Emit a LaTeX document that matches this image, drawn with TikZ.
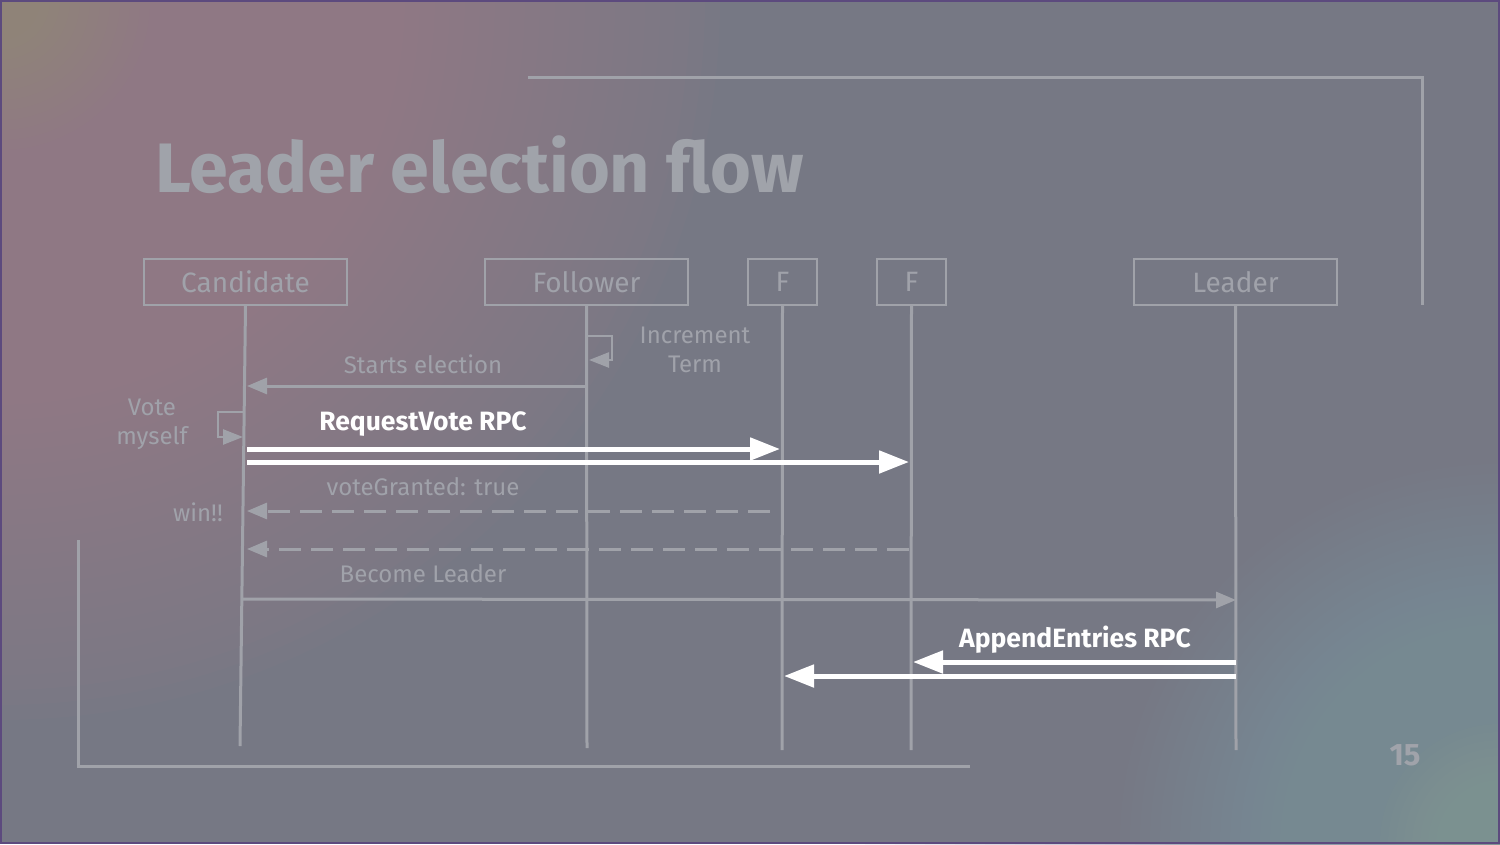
\documentclass[tikz,border=0pt]{standalone}
\usepackage{fontspec}
\setmainfont{Fira Sans}
\usetikzlibrary{arrows.meta}
\definecolor{bgc}{HTML}{767884}
\definecolor{tlA}{HTML}{A09A78}
\definecolor{tlB}{HTML}{A27A8C}
\definecolor{brA}{HTML}{8EA490}
\definecolor{brB}{HTML}{7EA0A8}
\definecolor{brC}{HTML}{84809A}
\definecolor{bord}{HTML}{5C4A7E}
\definecolor{linec}{HTML}{A0A2A9}
\definecolor{textc}{HTML}{A0A2AA}
\definecolor{titlec}{HTML}{A0A3AA}
\tikzset{
  actor/.style={draw=linec, line width=2pt, minimum height=46pt, text=textc, font=\fontsize{28}{30}\selectfont, inner sep=0pt},
  life/.style={draw=linec, line width=3pt},
  frame/.style={draw=linec, line width=3pt},
  msg/.style={draw=linec, line width=3pt, -{Triangle[length=20pt,width=16pt]}},
  dmsg/.style={msg, dash pattern=on 22pt off 10pt},
  loopmsg/.style={draw=linec, line width=2.5pt, -{Triangle[length=20pt,width=15pt]}},
  rpc/.style={draw=white, line width=5pt, -{Triangle[length=30pt,width=22pt]}},
  lbl/.style={text=textc, font=\fontsize{24}{29}\selectfont, align=center, inner sep=0pt},
  rpclbl/.style={text=white, font=\bfseries\fontsize{26.5}{30}\selectfont, inner sep=0pt}
}
\begin{document}
\begin{tikzpicture}[x=1pt,y=-1pt]
\useasboundingbox (0,0) rectangle (1500,844);
\begin{scope}
  \clip (0,0) rectangle (1500,844);
  \fill[bgc] (0,0) rectangle (1500,844);
  % top-left pink glow
  \foreach \r in {720,705,...,30} {
    \fill[tlB, opacity=0.05] (0,0) circle[radius=\r pt];
  }
  \foreach \r in {150,140,...,10} {
    \fill[tlA, opacity=0.045] (0,0) circle[radius=\r pt];
  }
  % bottom-right teal glow
  \foreach \r in {650,635,...,200} {
    \fill[brC, opacity=0.035] (1500,844) circle[radius=\r pt];
  }
  \foreach \r in {380,370,...,20} {
    \fill[brB, opacity=0.045] (1500,844) circle[radius=\r pt];
  }
  \foreach \r in {120,112,...,8} {
    \fill[brA, opacity=0.05] (1500,844) circle[radius=\r pt];
  }
\end{scope}
\draw[bord, line width=2pt] (1,1) rectangle (1499,843);

% frame brackets
\draw[frame] (528,77) -- (1422,77) -- (1422,305);
\draw[frame] (78,540) -- (78,766) -- (970,766);

% title
\node[anchor=base west, text=titlec, font=\bfseries\fontsize{70}{78}\selectfont, inner sep=0pt] (title) at (155,192) {Leader election flow};
\node[anchor=base, text=titlec, font=\bfseries\fontsize{31}{34}\selectfont, inner sep=0pt] (pg) at (1405,765) {15};

% actors
\node[actor, minimum width=203pt] (cand) at (245.5,282) {Candidate};
\node[actor, minimum width=203pt] (foll) at (586.5,282) {Follower};
\node[actor, minimum width=69pt] (fa) at (782.5,282) {F};
\node[actor, minimum width=69pt] (fb) at (911.5,282) {F};
\node[actor, minimum width=203pt] (lead) at (1235.5,282) {Leader};

% lifeline ends
\coordinate (candE) at (240,746);
\coordinate (follE) at (587,748);
\coordinate (faE) at (782,750);
\coordinate (fbE) at (911,750);
\coordinate (leadE) at (1236,750);
\draw[life] (cand.south) -- (candE);
\draw[life] (foll.south) -- (follE);
\draw[life] (fa.south) -- (faE);
\draw[life] (fb.south) -- (fbE);
\draw[life] (lead.south) -- (leadE);

% increment term loop
\coordinate (iA) at (587,336);
\coordinate (iB) at (589,360);
\draw[loopmsg] (iA) -- (612,336) -- (612,360) -- (iB);
\node[lbl] (tInc) at (695,350) {Increment\\Term};

% starts election
\coordinate (sA) at (587,386);
\coordinate (sB) at (247,386);
\draw[msg] (sA) -- (sB);
\node[lbl] (tStart) at (423,364) {Starts election};

% vote myself loop
\coordinate (vA) at (245,412);
\coordinate (vB) at (243,437);
\draw[loopmsg] (vA) -- (218,412) -- (218,437) -- (vB);
\node[lbl] (tVote) at (152,424) {Vote\\myself};

% RequestVote RPC
\node[rpclbl] (tReq) at (423,424) {RequestVote RPC};
\coordinate (r1A) at (247,449);
\coordinate (r1B) at (780,449);
\coordinate (r2A) at (247,462);
\coordinate (r2B) at (909,462);
\draw[rpc] (r1A) -- (r1B);
\draw[rpc] (r2A) -- (r2B);

% vote granted
\node[lbl] (tGrant) at (423,487) {voteGranted: true};
\node[lbl, anchor=east] (tWin) at (223,512) {win!!};
\coordinate (g1A) at (770,511);
\coordinate (g1B) at (247,511);
\coordinate (g2A) at (909,549);
\coordinate (g2B) at (247,549);
\draw[dmsg] (g1A) -- (g1B);
\draw[dmsg] (g2A) -- (g2B);

% become leader
\node[lbl] (tBecome) at (423,574) {Become Leader};
\coordinate (bA) at (243,599);
\coordinate (bB) at (1236,600);
\draw[msg] (bA) -- (bB);

% AppendEntries RPC
\node[rpclbl] (tApp) at (1075,640) {AppendEntries RPC};
\coordinate (a1A) at (1236,662);
\coordinate (a1B) at (913,662);
\coordinate (a2A) at (1236,676);
\coordinate (a2B) at (784,676);
\draw[rpc] (a1A) -- (a1B);
\draw[rpc] (a2A) -- (a2B);
\end{tikzpicture}
\end{document}
